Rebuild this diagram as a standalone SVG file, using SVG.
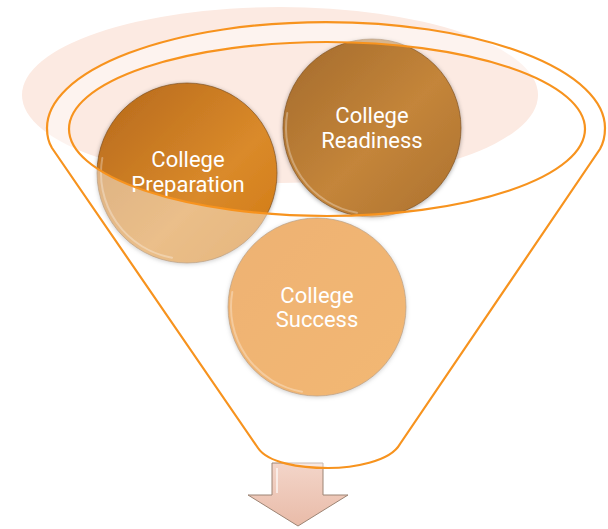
<svg xmlns="http://www.w3.org/2000/svg" width="608" height="529" viewBox="0 0 608 529">
<style>
.funnel{fill:none;stroke:#F7931E;stroke-width:2.2}
.rim{stroke:#7A4E22;stroke-opacity:0.65;stroke-width:1}
.hl{fill:none;stroke:#FFFFFF;stroke-opacity:0.3;stroke-width:2;stroke-linecap:round}
.lbl{font-family:Roboto,"Liberation Sans",sans-serif;font-size:22px;fill:#FFFFFF;text-anchor:middle}
</style>
<defs>
<linearGradient id="gPrep" x1="0" y1="0" x2="1" y2="1">
<stop offset="0" stop-color="#B5681B"/><stop offset="0.6" stop-color="#DA8A2A"/><stop offset="1" stop-color="#D07812"/>
</linearGradient>
<linearGradient id="gRead" x1="0" y1="0" x2="1" y2="1">
<stop offset="0" stop-color="#A36A2B"/><stop offset="0.55" stop-color="#C4853A"/><stop offset="1" stop-color="#AC712F"/>
</linearGradient>
<linearGradient id="gSucc" x1="0" y1="0" x2="1" y2="1">
<stop offset="0" stop-color="#E07400"/><stop offset="1" stop-color="#E87C04"/>
</linearGradient>
<linearGradient id="gArrow" x1="0" y1="0" x2="0" y2="1">
<stop offset="0" stop-color="#F3D5C9"/><stop offset="1" stop-color="#E9BBA8"/>
</linearGradient>
<filter id="sh" x="-10%" y="-10%" width="120%" height="120%">
<feDropShadow dx="0" dy="1" stdDeviation="2" flood-color="#000000" flood-opacity="0.35"/>
</filter>
</defs>

<ellipse id="backdrop" cx="280" cy="95" rx="258" ry="88" fill="#FCEAE2"/>

<g id="node-preparation">
<circle cx="187" cy="173" r="90" fill="url(#gPrep)" class="rim" filter="url(#sh)"/>
<path class="hl" d="M 102.3,158 A 86,86 0 0 0 172,257.7"/>
<text class="lbl" x="188" y="167">College</text>
<text class="lbl" x="188" y="192">Preparation</text>
</g>

<g id="node-readiness">
<circle cx="372" cy="128" r="89" fill="url(#gRead)" class="rim" filter="url(#sh)"/>
<path class="hl" d="M 287.3,113 A 86,86 0 0 0 357,212.7"/>
<text class="lbl" x="372" y="123">College</text>
<text class="lbl" x="372" y="148">Readiness</text>
</g>

<g id="node-success">
<circle cx="317" cy="307" r="89" fill="url(#gSucc)" class="rim" filter="url(#sh)"/>
<path class="hl" d="M 232.3,292 A 86,86 0 0 0 302,391.7"/>
<text class="lbl" x="317" y="303">College</text>
<text class="lbl" x="317" y="327">Success</text>
</g>

<g id="node-arrow">
<polygon points="272,463 323,463 323,495 348,495 298,526 248,495 272,495" fill="url(#gArrow)" stroke="#9C8474" stroke-width="1"/>
<line x1="277" y1="468" x2="277" y2="493" stroke="#FFFFFF" stroke-opacity="0.6" stroke-width="2"/>
</g>

<g id="funnel">
<path fill="#FFFFFF" fill-opacity="0.45" fill-rule="evenodd" d="M 52,148 Q 47,140 47,128 A 279,106 0 0 1 605,128 Q 605,140 600,149 L 400,444 C 390,462 352,468 328,468 C 300,468 268,463 258,448 Z M 69,129 A 258,87 0 1 0 585,129 A 258,87 0 1 0 69,129 Z"/>
<path class="funnel" d="M 52,148 Q 47,140 47,128 A 279,106 0 0 1 605,128 Q 605,140 600,149 L 400,444 C 390,462 352,468 328,468 C 300,468 268,463 258,448 Z"/>
<ellipse class="funnel" cx="327" cy="129" rx="258" ry="87"/>
</g>
</svg>
